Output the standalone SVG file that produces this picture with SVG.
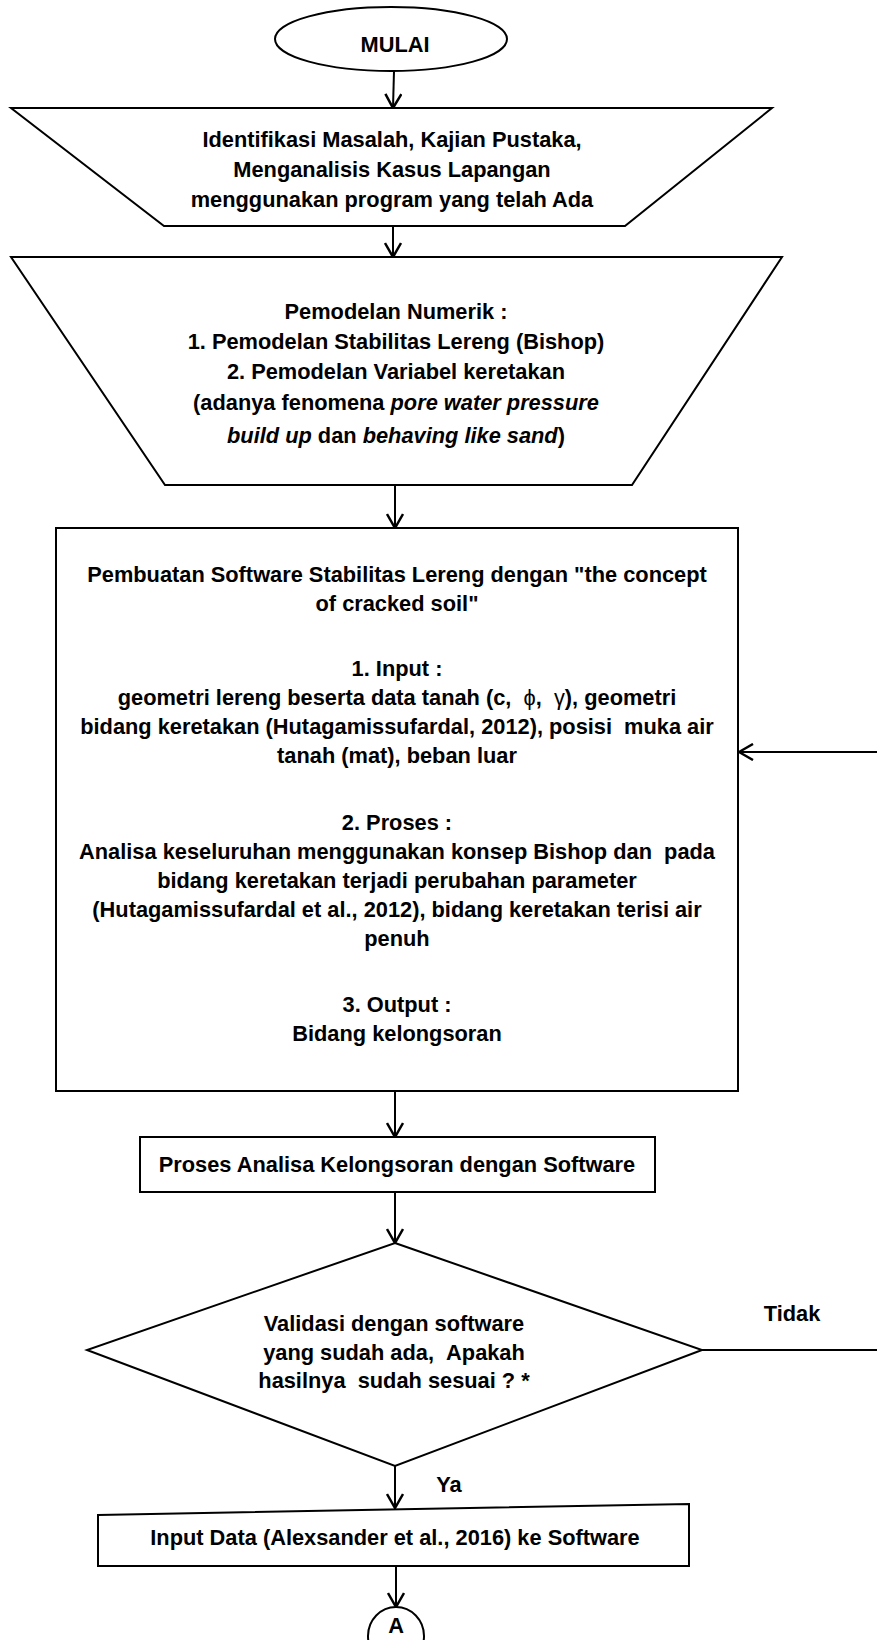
<svg xmlns="http://www.w3.org/2000/svg" width="877" height="1640" viewBox="0 0 877 1640">
<style>
.s{fill:#fff;stroke:#000;stroke-width:2}
.c{fill:none;stroke:#000;stroke-width:2}
.t{font-family:"Liberation Sans",Arial,"DejaVu Sans",sans-serif;font-weight:bold;font-size:21.8px;fill:#000;text-anchor:middle}
.i{font-style:italic}
.g{font-weight:normal}
</style>
<defs>
<marker id="arr" viewBox="0 0 16 18" refX="15" refY="9" markerWidth="16" markerHeight="18" markerUnits="userSpaceOnUse" orient="auto">
<path d="M1,1 L15,9 L1,17" fill="none" stroke="#000" stroke-width="2.5"/>
</marker>
</defs>
<rect width="877" height="1640" fill="#fff"/>

<g id="connectors">
<line class="c" x1="394" y1="71" x2="393" y2="108" marker-end="url(#arr)"/>
<line class="c" x1="393" y1="226" x2="393" y2="257" marker-end="url(#arr)"/>
<line class="c" x1="395" y1="485" x2="395" y2="528" marker-end="url(#arr)"/>
<line class="c" x1="395" y1="1091" x2="395" y2="1137" marker-end="url(#arr)"/>
<line class="c" x1="395" y1="1192" x2="395" y2="1243" marker-end="url(#arr)"/>
<line class="c" x1="395" y1="1466" x2="395" y2="1508" marker-end="url(#arr)"/>
<line class="c" x1="396" y1="1566" x2="396" y2="1607" marker-end="url(#arr)"/>
<line class="c" x1="877" y1="752" x2="739" y2="752" marker-end="url(#arr)"/>
<line class="c" x1="702" y1="1350" x2="877" y2="1350"/>
<text class="t" x="792" y="1321">Tidak</text>
<text class="t" x="449" y="1492">Ya</text>
</g>

<g id="start">
<ellipse class="s" cx="391" cy="39" rx="116" ry="32"/>
<text class="t" x="395" y="52">MULAI</text>
</g>

<g id="identifikasi">
<polygon class="s" points="11,108 772,108 625,226 164,226"/>
<text class="t" x="392" y="147">Identifikasi Masalah, Kajian Pustaka,</text>
<text class="t" x="392" y="177">Menganalisis Kasus Lapangan</text>
<text class="t" x="392" y="207">menggunakan program yang telah Ada</text>
</g>

<g id="pemodelan">
<polygon class="s" points="11,257 782,257 632,485 165,485"/>
<text class="t" x="396" y="319">Pemodelan Numerik :</text>
<text class="t" x="396" y="349">1. Pemodelan Stabilitas Lereng (Bishop)</text>
<text class="t" x="396" y="379">2. Pemodelan Variabel keretakan</text>
<text class="t" x="396" y="410">(adanya fenomena <tspan class="i">pore water pressure</tspan></text>
<text class="t" x="396" y="443"><tspan class="i">build up</tspan> dan <tspan class="i">behaving like sand</tspan>)</text>
</g>

<g id="pembuatan">
<rect class="s" x="56" y="528" width="682" height="563"/>
<text class="t" x="397" y="582">Pembuatan Software Stabilitas Lereng dengan "the concept</text>
<text class="t" x="397" y="611">of cracked soil"</text>
<text class="t" x="397" y="676">1. Input :</text>
<text class="t" x="397" y="705">geometri lereng beserta data tanah (c, <tspan class="g">&#160;ϕ</tspan>, <tspan class="g">&#160;γ</tspan>), geometri</text>
<text class="t" x="397" y="734">bidang keretakan (Hutagamissufardal, 2012), posisi &#160;muka air</text>
<text class="t" x="397" y="763">tanah (mat), beban luar</text>
<text class="t" x="397" y="830">2. Proses :</text>
<text class="t" x="397" y="859">Analisa keseluruhan menggunakan konsep Bishop dan &#160;pada</text>
<text class="t" x="397" y="888">bidang keretakan terjadi perubahan parameter</text>
<text class="t" x="397" y="917">(Hutagamissufardal et al., 2012), bidang keretakan terisi air</text>
<text class="t" x="397" y="946">penuh</text>
<text class="t" x="397" y="1012">3. Output :</text>
<text class="t" x="397" y="1041">Bidang kelongsoran</text>
</g>

<g id="proses">
<rect class="s" x="140" y="1137" width="515" height="55"/>
<text class="t" x="397" y="1172">Proses Analisa Kelongsoran dengan Software</text>
</g>

<g id="validasi">
<polygon class="s" points="395,1243 702,1350 395,1466 87,1350"/>
<text class="t" x="394" y="1331">Validasi dengan software</text>
<text class="t" x="394" y="1360">yang sudah ada, &#160;Apakah</text>
<text class="t" x="394" y="1388">hasilnya &#160;sudah sesuai ? *</text>
</g>

<g id="input-data">
<polygon class="s" points="98,1515 689,1504 689,1566 98,1566"/>
<text class="t" x="395" y="1545">Input Data (Alexsander et al., 2016) ke Software</text>
</g>

<g id="connector-a">
<ellipse class="s" cx="396" cy="1636" rx="28" ry="29"/>
<text class="t" x="396" y="1633">A</text>
</g>
</svg>
